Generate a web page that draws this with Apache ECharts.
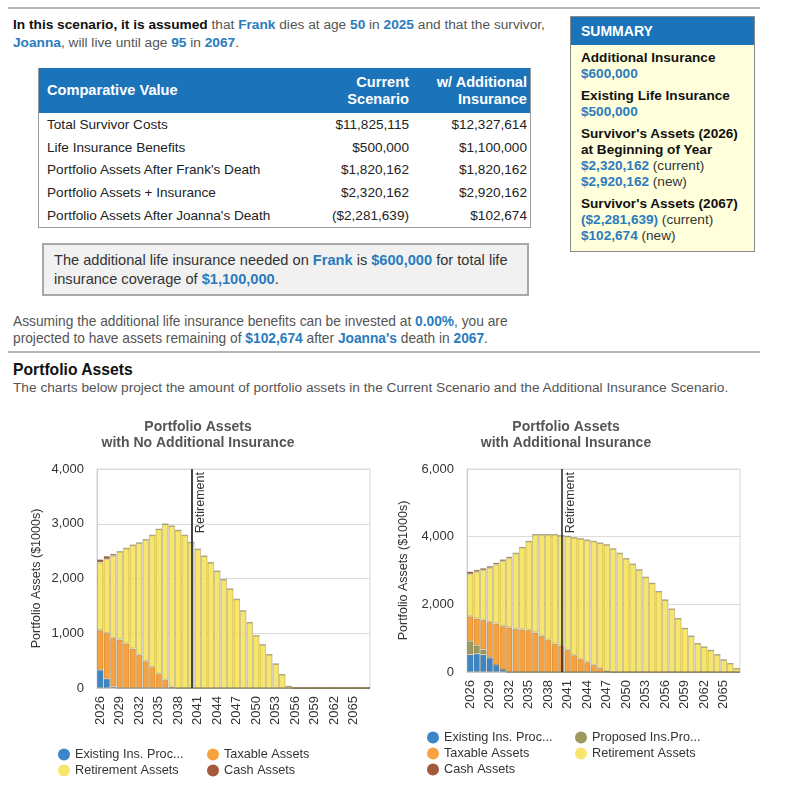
<!DOCTYPE html>
<html>
<head>
<meta charset="utf-8">
<script src="https://cdn.jsdelivr.net/npm/echarts@6/dist/echarts.min.js"></script>
<style>
  html, body { margin:0; padding:0; background:#fff; }
  body { width:800px; height:791px; position:relative; overflow:hidden;
         font-family:"Liberation Sans", Arial, sans-serif; color:#555; }
  .abs { position:absolute; }
  .b { color:#2a7bbf; font-weight:bold; }
  .k { color:#111; font-weight:bold; }
  .rule { position:absolute; left:8px; width:752px; height:2px; background:#b5b5b5; }
  table.cmp { border-collapse:collapse; font-size:13.6px; color:#222; }
  table.cmp th { background:#1b73ba; color:#fff; font-weight:bold; font-size:14.6px; line-height:17px; padding:0 3px; }
  table.cmp td { height:22.8px; padding:0 3px; }
  .sum { left:570px; top:16px; width:185px; height:236px; border:1px solid #8a8a8a; background:#ffffdc; box-sizing:border-box; }
  .sumh { background:#1b73ba; color:#fff; font-weight:bold; font-size:14px; height:28px; line-height:28px; padding-left:10px; }
  .sumb { padding:5px 0 0 10px; font-size:13.6px; line-height:16px; color:#333; }
  .sumb .g { margin-bottom:6px; }
</style>
</head>
<body>
<div class="rule" style="top:7px;"></div>

<div class="abs" style="left:13px; top:16px; width:560px; font-size:13.7px; line-height:18px;">
  <span class="k">In this scenario, it is assumed</span> that <span class="b">Frank</span> dies at age <span class="b">50</span> in <span class="b">2025</span> and that the survivor, <span class="b">Joanna</span>, will live until age <span class="b">95</span> in <span class="b">2067</span>.
</div>

<div class="abs" style="left:38px; top:68px; width:493px; border:1px solid #999; border-top:none; box-sizing:border-box;">
<table class="cmp" style="width:491px;">
  <tr style="height:45px;">
    <th style="text-align:left; padding-left:8px;">Comparative Value</th>
    <th style="text-align:right; width:112px;">Current<br>Scenario</th>
    <th style="text-align:right; width:112px;">w/ Additional<br>Insurance</th>
  </tr>
  <tr><td style="padding-left:8px;">Total Survivor Costs</td><td style="text-align:right;">$11,825,115</td><td style="text-align:right;">$12,327,614</td></tr>
  <tr><td style="padding-left:8px;">Life Insurance Benefits</td><td style="text-align:right;">$500,000</td><td style="text-align:right;">$1,100,000</td></tr>
  <tr><td style="padding-left:8px;">Portfolio Assets After Frank's Death</td><td style="text-align:right;">$1,820,162</td><td style="text-align:right;">$1,820,162</td></tr>
  <tr><td style="padding-left:8px;">Portfolio Assets + Insurance</td><td style="text-align:right;">$2,320,162</td><td style="text-align:right;">$2,920,162</td></tr>
  <tr><td style="padding-left:8px;">Portfolio Assets After Joanna's Death</td><td style="text-align:right;">($2,281,639)</td><td style="text-align:right;">$102,674</td></tr>
</table>
</div>

<div class="abs sum">
  <div class="sumh">SUMMARY</div>
  <div class="sumb">
    <div class="g"><span class="k">Additional Insurance</span><br><span class="b">$600,000</span></div>
    <div class="g"><span class="k">Existing Life Insurance</span><br><span class="b">$500,000</span></div>
    <div class="g"><span class="k">Survivor's Assets (2026)<br>at Beginning of Year</span><br><span class="b">$2,320,162</span> (current)<br><span class="b">$2,920,162</span> (new)</div>
    <div class="g"><span class="k">Survivor's Assets (2067)</span><br><span class="b">($2,281,639)</span> (current)<br><span class="b">$102,674</span> (new)</div>
  </div>
</div>

<div class="abs" style="left:42px; top:243px; width:487px; height:53px; box-sizing:border-box; border:2px solid #a8a8a8; background:#f1f1f1; font-size:14.6px; line-height:19px; color:#333; padding:6px 0 0 10px;">
  The additional life insurance needed on <span class="b">Frank</span> is <span class="b">$600,000</span> for total life insurance coverage of <span class="b">$1,100,000</span>.
</div>

<div class="abs" style="left:13px; top:313px; width:520px; font-size:13.75px; line-height:17px;">
  Assuming the additional life insurance benefits can be invested at <span class="b">0.00%</span>, you are projected to have assets remaining of <span class="b">$102,674</span> after <span class="b">Joanna's</span> death in <span class="b">2067</span>.
</div>

<div class="rule" style="top:351px;"></div>

<div class="abs" style="left:13px; top:361px; font-size:15.7px; font-weight:bold; color:#111;">Portfolio Assets</div>
<div class="abs" style="left:13px; top:380px; font-size:13.7px; color:#555; white-space:nowrap;">The charts below project the amount of portfolio assets in the Current Scenario and the Additional Insurance Scenario.</div>

<div id="chart" class="abs" style="left:0; top:400px; width:800px; height:391px;"></div>

<script>
// ---------- data ----------
const years = ['2026','2027','2028','2029','2030','2031','2032','2033','2034','2035','2036','2037','2038','2039','2040','2041','2042','2043','2044','2045','2046','2047','2048','2049','2050','2051','2052','2053','2054','2055','2056','2057','2058','2059','2060','2061','2062','2063','2064','2065','2066','2067'];
const yTicksLeft = [0, 1000, 2000, 3000, 4000];
const yTicksRight = [0, 2000, 4000, 6000];
const retirementYear = '2040';
const seriesNames = ['Existing Ins. Proc...', 'Proposed Ins.Pro...', 'Taxable Assets', 'Retirement Assets', 'Cash Assets'];

// Current scenario (no additional insurance), $1000s
const leftExisting   = [330,170,25,0,0,0,0,0,0,0,0,0,0,0,0,0,0,0,0,0,0,0,0,0,0,0,0,0,0,0,0,0,0,0,0,0,0,0,0,0,0,0];
const leftTaxable    = [725,830,890,885,815,720,605,490,385,260,150,22,0,0,0,0,0,0,0,0,0,0,0,0,0,0,0,0,0,0,0,0,0,0,0,0,0,0,0,0,0,0];
const leftRetirement = [1240,1355,1500,1605,1735,1890,2045,2220,2405,2640,2845,2938,2880,2790,2660,2535,2410,2290,2135,1980,1810,1620,1410,1195,955,790,610,440,245,30,0,0,0,0,0,0,0,0,0,0,0,0];
const leftCash       = [55,55,35,0,0,0,0,0,0,0,0,0,0,0,0,0,0,0,0,0,0,0,0,0,0,0,0,0,0,0,0,0,0,0,0,0,0,0,0,0,0,0];

// With additional insurance, $1000s
const rightExisting   = [515,540,515,420,215,75,0,0,0,0,0,0,0,0,0,0,0,0,0,0,0,0,0,0,0,0,0,0,0,0,0,0,0,0,0,0,0,0,0,0,0,0];
const rightProposed   = [395,250,150,20,0,0,0,0,0,0,0,0,0,0,0,0,0,0,0,0,0,0,0,0,0,0,0,0,0,0,0,0,0,0,0,0,0,0,0,0,0,0];
const rightTaxable    = [740,795,880,1040,1215,1290,1320,1280,1260,1240,1170,1070,950,840,780,650,500,390,290,210,120,30,0,0,0,0,0,0,0,0,0,0,0,0,0,0,0,0,0,0,0,0];
const rightRetirement = [1245,1375,1465,1595,1750,1915,2045,2230,2420,2620,2890,2990,3110,3220,3250,3360,3470,3550,3610,3650,3690,3730,3640,3510,3350,3190,3020,2800,2620,2380,2130,1860,1580,1290,1060,840,740,640,510,360,250,100];
const rightCash       = [75,60,60,55,50,50,45,0,0,0,0,0,0,0,0,0,0,0,0,0,0,0,0,0,0,0,0,0,0,0,0,0,0,0,0,0,0,0,0,0,0,0];

// ---------- styling ----------
const colors = { existing:'#3a86c8', proposed:'#9d9a60', taxable:'#f7a23f', retirement:'#f8e66c', cash:'#a35a3c' };
const FONT = '"Liberation Sans", Arial, sans-serif';
const barBorder = { borderColor:'rgba(110,95,50,0.3)', borderWidth:1 };

function bar(name, data, color, xi, stack) {
  return { name, type:'bar', stack, xAxisIndex:xi, yAxisIndex:xi, data, barCategoryGap:'0%',
           itemStyle:Object.assign({ color }, barBorder), emphasis:{ disabled:true }, animation:false };
}
function retireLine(color, width) {
  return { symbol:'none', silent:true, animation:false,
    lineStyle:{ color, width, type:'solid' },
    label:{ show:true, formatter:'Retirement', position:'insideEndBottom', color:'#333', fontSize:12.5, fontFamily:FONT, distance:3 },
    data:[{ xAxis: retirementYear }] };
}
function xAxis(gi) {
  return { type:'category', gridIndex:gi, data:years, boundaryGap:true,
    axisLine:{ lineStyle:{ color:'#ccc' } },
    axisTick:{ alignWithLabel:true, interval:2, length:5, lineStyle:{ color:'#999' } },
    axisLabel:{ interval:2, rotate:90, color:'#333', fontSize:13, fontFamily:FONT, margin:8 } };
}
function yAxis(gi, ticks, gap) {
  return { type:'value', gridIndex:gi, min:ticks[0], max:ticks[ticks.length-1], interval:ticks[1]-ticks[0],
    name:'Portfolio Assets ($1000s)', nameLocation:'middle', nameGap:gap, nameRotate:90,
    nameTextStyle:{ color:'#333', fontSize:12.5, fontFamily:FONT },
    axisLine:{ show:true, lineStyle:{ color:'#ccc' } }, axisTick:{ show:false },
    splitLine:{ lineStyle:{ color:'#dcdcdc' } },
    axisLabel:{ color:'#333', fontSize:13, fontFamily:FONT, margin:13,
      formatter: v => v.toLocaleString('en-US') } };
}
const legendText = { color:'#333', fontSize:12.7, fontFamily:FONT };
function legend(left, top, names) {
  return { orient:'vertical', left, top, data:names, icon:'circle', itemWidth:12, itemHeight:12,
           itemGap:3, textStyle:legendText, selectedMode:false, padding:0,
           itemStyle:{ borderWidth:0 } };
}

const chart = echarts.init(document.getElementById('chart'), null, { renderer:'canvas' });
const sL = [
  bar(seriesNames[0], leftExisting, colors.existing, 0, 'L'),
  bar(seriesNames[2], leftTaxable, colors.taxable, 0, 'L'),
  Object.assign(bar(seriesNames[3], leftRetirement, colors.retirement, 0, 'L'), { markLine: retireLine('#444', 2) }),
  bar(seriesNames[4], leftCash, colors.cash, 0, 'L')
];
const sR = [
  bar(seriesNames[0], rightExisting, colors.existing, 1, 'R'),
  bar(seriesNames[1], rightProposed, colors.proposed, 1, 'R'),
  bar(seriesNames[2], rightTaxable, colors.taxable, 1, 'R'),
  Object.assign(bar(seriesNames[3], rightRetirement, colors.retirement, 1, 'R'), { markLine: retireLine('#222', 1.5) }),
  bar(seriesNames[4], rightCash, colors.cash, 1, 'R')
];
chart.setOption({
  animation:false,
  textStyle:{ fontFamily:FONT },
  title:[
    { text:'Portfolio Assets\nwith No Additional Insurance', left:193, top:14, textAlign:'center',
      textStyle:{ color:'#555', fontSize:14, fontWeight:'bold', lineHeight:16, fontFamily:FONT } },
    { text:'Portfolio Assets\nwith Additional Insurance', left:561, top:14, textAlign:'center',
      textStyle:{ color:'#555', fontSize:14, fontWeight:'bold', lineHeight:16, fontFamily:FONT } }
  ],
  grid:[
    { left:97, top:69, width:273, height:219, show:true, borderColor:'#d8d8d8', borderWidth:1, backgroundColor:'transparent' },
    { left:467, top:69, width:273, height:203, show:true, borderColor:'#d8d8d8', borderWidth:1, backgroundColor:'transparent' }
  ],
  xAxis:[ xAxis(0), xAxis(1) ],
  yAxis:[ yAxis(0, yTicksLeft, 54), yAxis(1, yTicksRight, 57) ],
  legend:[
    legend(58, 348, [seriesNames[0], seriesNames[3]]),
    legend(207, 348, [seriesNames[2], seriesNames[4]]),
    legend(427, 331, [seriesNames[0], seriesNames[2], seriesNames[4]]),
    legend(575, 331, [seriesNames[1], seriesNames[3]])
  ],
  series: sL.concat(sR)
});
</script>
</body>
</html>
